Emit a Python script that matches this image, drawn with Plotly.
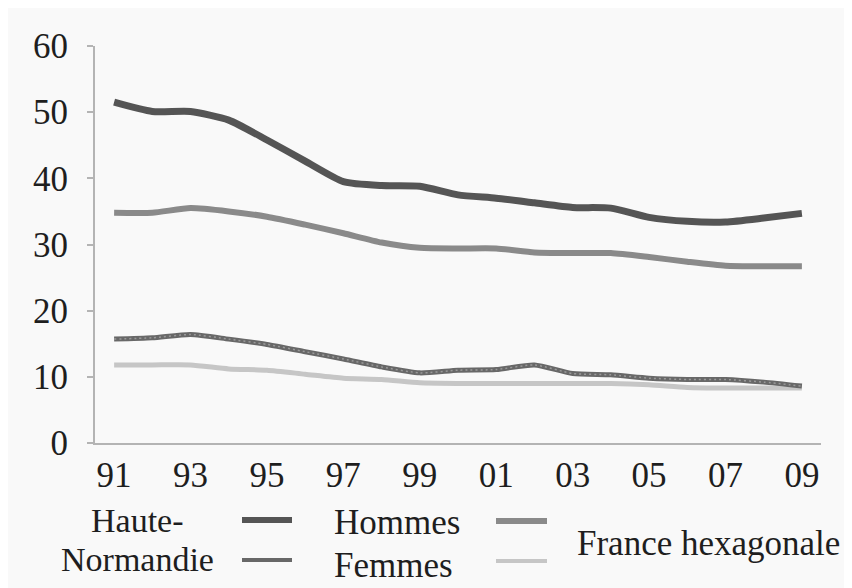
import plotly.graph_objects as go

years = list(range(1991, 2010))
tick_vals = list(range(1991, 2010, 2))
tick_text = ["91", "93", "95", "97", "99", "01", "03", "05", "07", "09"]

hn_hommes = [51.5, 50.1, 50.1, 48.8, 45.8, 42.6, 39.5, 38.9, 38.8, 37.5,
             37.0, 36.3, 35.6, 35.5, 34.1, 33.5, 33.4, 34.0, 34.7]
fr_hommes = [34.8, 34.8, 35.5, 35.0, 34.2, 33.0, 31.7, 30.3, 29.5, 29.4,
             29.4, 28.8, 28.7, 28.7, 28.1, 27.4, 26.8, 26.7, 26.7]
hn_femmes = [15.7, 15.9, 16.4, 15.7, 14.9, 13.8, 12.7, 11.5, 10.6, 11.0,
             11.1, 11.8, 10.5, 10.3, 9.8, 9.6, 9.6, 9.2, 8.6]
fr_femmes = [11.8, 11.8, 11.8, 11.2, 11.0, 10.4, 9.8, 9.6, 9.1, 9.0,
             9.0, 9.0, 9.0, 9.0, 8.8, 8.4, 8.3, 8.3, 8.3]

C_HN_H = "#555555"
C_FR_H = "#8a8a8a"
C_HN_F = "#686868"
C_FR_F = "#c6c6c6"
FONT = "Liberation Serif"

fig = go.Figure()
fig.add_trace(go.Scatter(x=years, y=fr_femmes, mode="lines", name="France Femmes",
                         line=dict(color=C_FR_F, width=5, shape="spline", smoothing=0.6)))
fig.add_trace(go.Scatter(x=years, y=hn_femmes, mode="lines", name="Haute-Normandie Femmes",
                         line=dict(color=C_HN_F, width=5, shape="spline", smoothing=0.6)))
fig.add_trace(go.Scatter(x=years, y=hn_femmes, mode="lines", showlegend=False,
                         line=dict(color="#9a9a9a", width=1.5, dash="2px,3px", shape="spline", smoothing=0.6)))
fig.add_trace(go.Scatter(x=years, y=fr_hommes, mode="lines", name="France Hommes",
                         line=dict(color=C_FR_H, width=6, shape="spline", smoothing=0.6)))
fig.add_trace(go.Scatter(x=years, y=hn_hommes, mode="lines", name="Haute-Normandie Hommes",
                         line=dict(color=C_HN_H, width=7, shape="spline", smoothing=0.6)))

# page has an 8px body margin: work in page pixels, convert to figure pixels
OFF = 8
W, H = 852 - OFF, 588 - OFF
L, T = 95 - OFF, 46 - OFF
R = W - (821 - OFF)
B = H - (443 - OFF)
pw, ph = W - L - R, H - T - B


def px(xp):
    return (xp - OFF - L) / pw


def py(yp):
    return (H - B - (yp - OFF)) / ph


shapes = []
annotations = []
for (x0, x1, yy, col, w) in [(242, 292, 520, C_HN_H, 6), (242, 292, 560, C_HN_F, 4),
                             (496, 547, 521, C_FR_H, 6), (496, 547, 561, C_FR_F, 4)]:
    shapes.append(dict(type="line", xref="paper", yref="paper",
                       x0=px(x0), x1=px(x1), y0=py(yy), y1=py(yy),
                       line=dict(color=col, width=w)))
for (txt, xx, yy, anchor, sz) in [("Haute-", 137, 520, "center", 34),
                                  ("Normandie", 137, 559, "center", 34),
                                  ("Hommes", 332, 522, "left", 35),
                                  ("Femmes", 332, 565, "left", 35),
                                  ("France hexagonale", 575, 543, "left", 35)]:
    annotations.append(dict(text=txt, xref="paper", yref="paper", x=px(xx), y=py(yy),
                            xanchor=anchor, yanchor="middle", showarrow=False,
                            font=dict(family=FONT, size=sz, color="#1e1e1e")))

fig.update_layout(
    width=W, height=H,
    margin=dict(l=L, r=R, t=T, b=B),
    paper_bgcolor="#f9f9f9", plot_bgcolor="#f9f9f9",
    showlegend=False,
    font=dict(family=FONT, size=35, color="#1e1e1e"),
    shapes=shapes, annotations=annotations,
    xaxis=dict(range=[1990.5, 2009.5], tickvals=tick_vals, ticktext=tick_text,
               showgrid=False, zeroline=False, showline=True, linecolor="#b4b4b4",
               linewidth=2, ticks="", ticklabelstandoff=0, tickfont=dict(size=35)),
    yaxis=dict(range=[0, 60], tickvals=[0, 10, 20, 30, 40, 50, 60],
               showgrid=False, zeroline=False, showline=True, linecolor="#b4b4b4",
               linewidth=2, ticks="outside", ticklen=6, tickwidth=2, tickcolor="#b4b4b4",
               ticklabelstandoff=12, tickfont=dict(size=35)),
)

fig.write_html("out.html")
